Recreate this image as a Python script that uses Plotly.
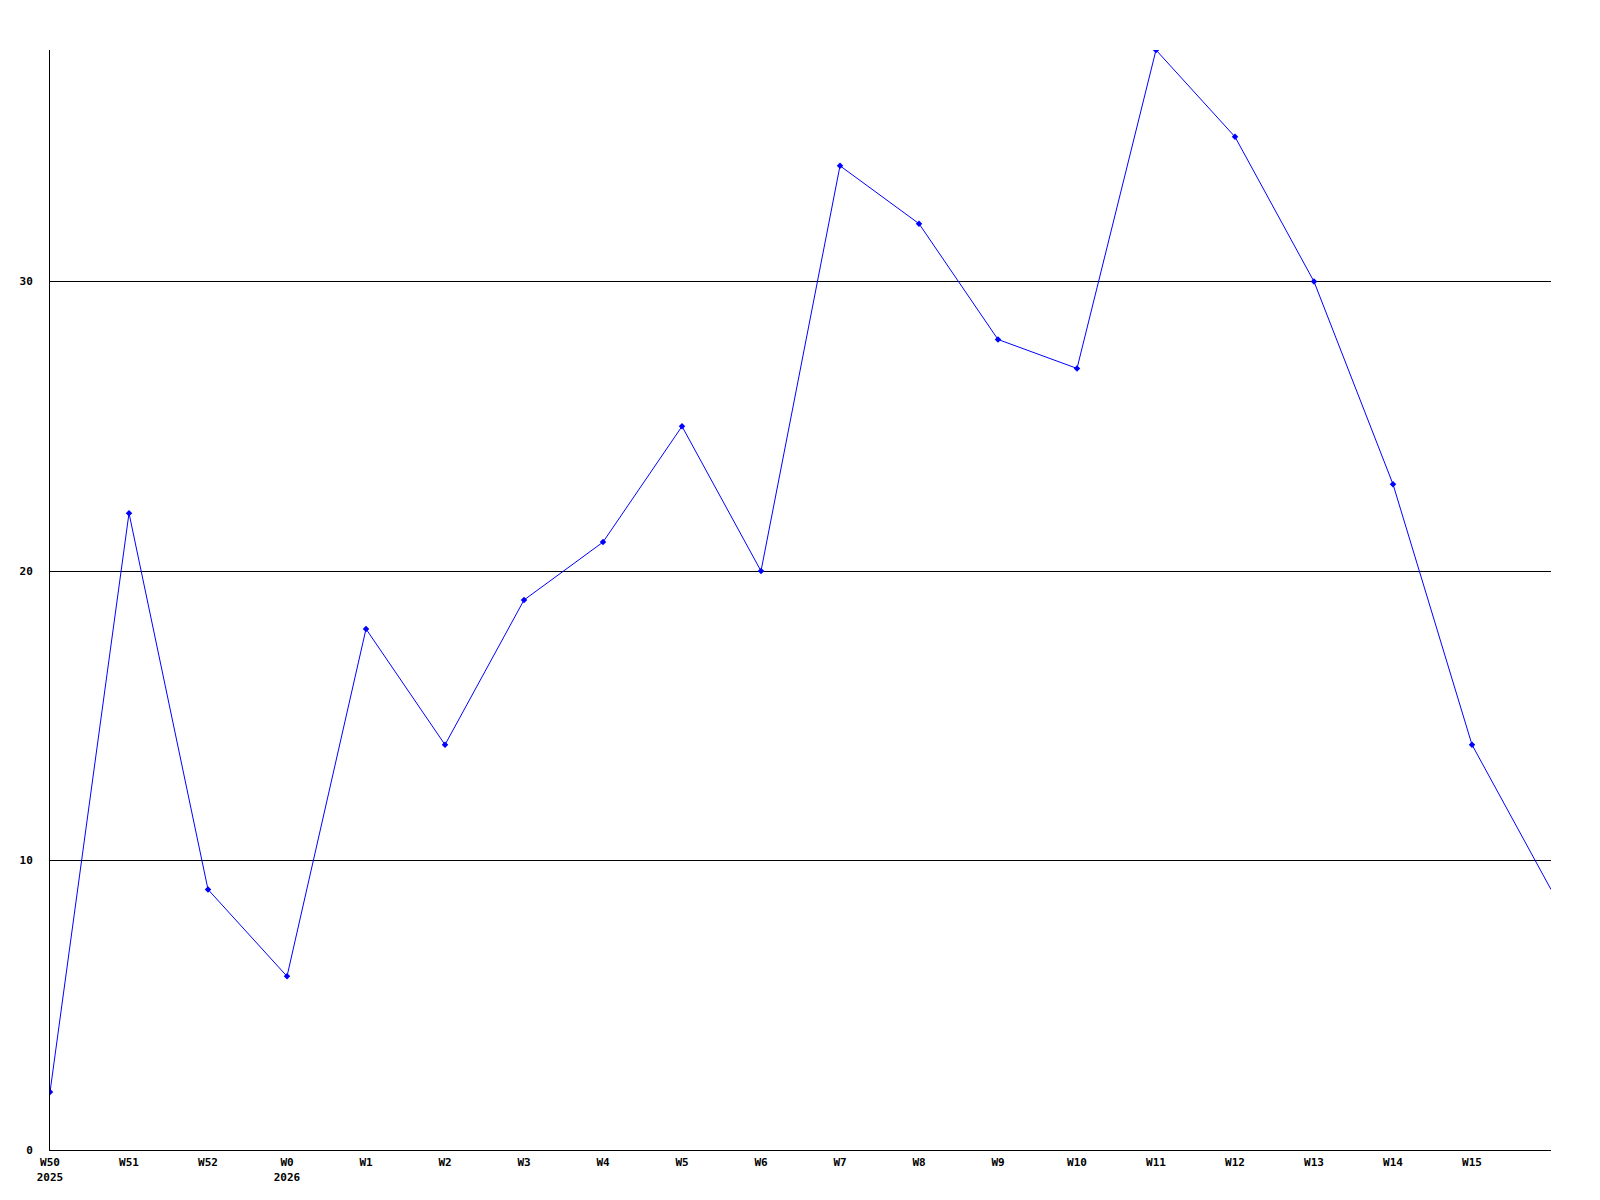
import plotly.graph_objects as go

weeks = ["W50", "W51", "W52", "W0", "W1", "W2", "W3", "W4", "W5", "W6",
         "W7", "W8", "W9", "W10", "W11", "W12", "W13", "W14", "W15", "W16"]
tick_labels = ["W50<br>2025", "W51", "W52", "W0<br>2026", "W1", "W2", "W3", "W4", "W5", "W6",
               "W7", "W8", "W9", "W10", "W11", "W12", "W13", "W14", "W15"]
values = [2, 22, 9, 6, 18, 14, 19, 21, 25, 20, 34, 32, 28, 27, 38, 35, 30, 23, 14, 9]
y_ticks = [0, 10, 20, 30]

x_idx = list(range(len(weeks)))

fig = go.Figure()
fig.add_trace(go.Scatter(
    x=x_idx, y=values, mode="lines",
    line=dict(color="#0000ff", width=1),
    hoverinfo="skip", showlegend=False,
))
fig.add_trace(go.Scatter(
    x=x_idx[:-1], y=values[:-1], mode="markers",
    marker=dict(color="#0000ff", size=5, symbol="diamond", line=dict(width=0)),
    showlegend=False,
))

font = dict(family="DejaVu Sans Mono", size=11, color="#000000", weight="bold")

fig.update_layout(
    width=1592, height=1192,
    margin=dict(l=42, r=49, t=42, b=50),
    paper_bgcolor="white", plot_bgcolor="white",
    font=font,
    xaxis=dict(
        range=[0, 19], tickmode="array",
        tickvals=x_idx[:-1], ticktext=tick_labels,
        showgrid=False, zeroline=False,
        showline=True, linecolor="black", linewidth=1,
        ticks="", tickfont=font, ticklabelstandoff=2,
    ),
    yaxis=dict(
        range=[0, 38], tickmode="array", tickvals=y_ticks,
        ticktext=[str(v) for v in y_ticks],
        showgrid=True, gridcolor="black", gridwidth=1,
        zeroline=False, showline=True, linecolor="black", linewidth=1,
        ticks="", tickfont=font, ticklabelstandoff=14,
    ),
)

fig.write_html("out.html")
